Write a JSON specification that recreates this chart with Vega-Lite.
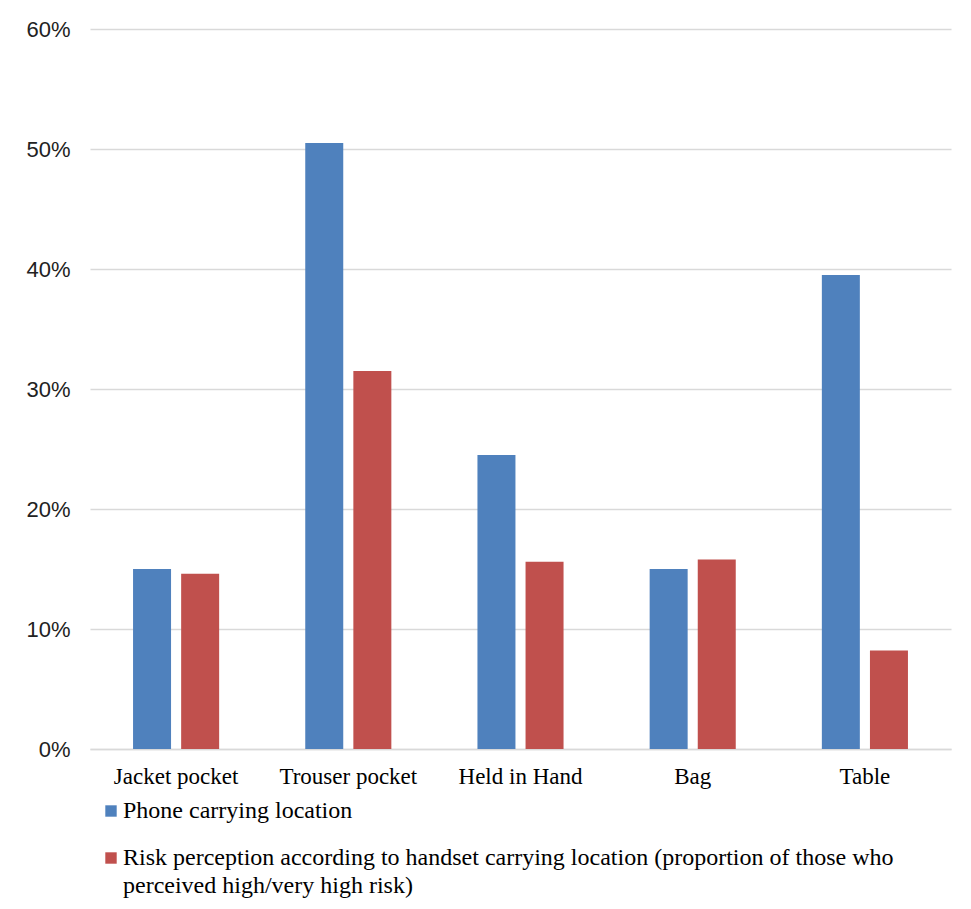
{
  "$schema": "https://vega.github.io/schema/vega-lite/v6.json",
  "autosize": "none",
  "padding": {"left": 90, "top": 29, "right": 20, "bottom": 160},
  "width": 861,
  "height": 720,
  "background": "white",
  "config": {"view": {"stroke": null}, "style": {"guide-label": {"lineHeight": 28}}},
  "data": {
    "values": [
      {"location": "Jacket pocket", "series": "Phone carrying location", "value": 0.150},
      {"location": "Jacket pocket", "series": "Risk perception according to handset carrying location (proportion of those who perceived high/very high risk)", "value": 0.146},
      {"location": "Trouser pocket", "series": "Phone carrying location", "value": 0.505},
      {"location": "Trouser pocket", "series": "Risk perception according to handset carrying location (proportion of those who perceived high/very high risk)", "value": 0.315},
      {"location": "Held in Hand", "series": "Phone carrying location", "value": 0.245},
      {"location": "Held in Hand", "series": "Risk perception according to handset carrying location (proportion of those who perceived high/very high risk)", "value": 0.156},
      {"location": "Bag", "series": "Phone carrying location", "value": 0.150},
      {"location": "Bag", "series": "Risk perception according to handset carrying location (proportion of those who perceived high/very high risk)", "value": 0.158},
      {"location": "Table", "series": "Phone carrying location", "value": 0.395},
      {"location": "Table", "series": "Risk perception according to handset carrying location (proportion of those who perceived high/very high risk)", "value": 0.082}
    ]
  },
  "mark": {"type": "bar"},
  "encoding": {
    "x": {
      "field": "location",
      "type": "nominal",
      "sort": ["Jacket pocket", "Trouser pocket", "Held in Hand", "Bag", "Table"],
      "scale": {"paddingInner": 0.5, "paddingOuter": 0.25},
      "axis": {
        "title": null,
        "labelAngle": 0,
        "labelFont": "Liberation Serif",
        "labelFontSize": 23,
        "labelColor": "#000000",
        "labelPadding": 16,
        "ticks": false,
        "domainColor": "#d9d9d9",
        "domainWidth": 1.5
      }
    },
    "xOffset": {
      "field": "series",
      "type": "nominal",
      "scale": {"paddingInner": 0.21, "paddingOuter": 0}
    },
    "y": {
      "field": "value",
      "type": "quantitative",
      "scale": {"domain": [0, 0.6]},
      "axis": {
        "title": null,
        "format": ".0%",
        "values": [0, 0.1, 0.2, 0.3, 0.4, 0.5, 0.6],
        "labelOverlap": false,
        "labelFont": "Liberation Sans",
        "labelFontSize": 22,
        "labelColor": "#222222",
        "labelPadding": 20,
        "ticks": false,
        "domain": false,
        "gridColor": "#d9d9d9",
        "gridWidth": 1.5
      }
    },
    "color": {
      "field": "series",
      "type": "nominal",
      "scale": {"range": ["#4F81BD", "#C0504D"]},
      "legend": {
        "title": null,
        "orient": "none",
        "legendX": 9,
        "legendY": 770,
        "direction": "vertical",
        "symbolType": "square",
        "symbolSize": 130,
        "symbolStrokeWidth": 0,
        "labelFont": "Liberation Serif",
        "labelFontSize": 24,
        "labelColor": "#000000",
        "labelLimit": 950,
        "labelOffset": 0,
        "rowPadding": 23,
        "labelExpr": "datum.label == 'Phone carrying location' ? datum.label : ['Risk perception according to handset carrying location (proportion of those who', 'perceived high/very high risk)']"
      }
    }
  }
}
